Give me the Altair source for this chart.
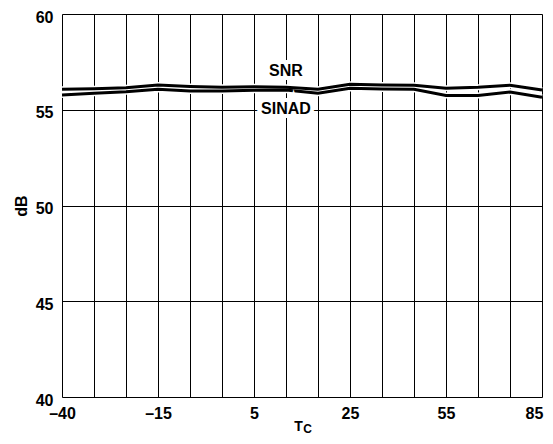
import json
import altair as alt
import pandas as pd

# ---- data ----
x_idx = list(range(16))
x_tick_labels = ["–40", "", "", "–15", "", "", "5", "", "", "25", "", "", "55", "", "", "85"]
snr = [56.07, 56.10, 56.15, 56.29, 56.22, 56.17, 56.20, 56.17, 56.07, 56.33, 56.29, 56.28, 56.12, 56.17, 56.28, 56.03]
sinad = [55.77, 55.86, 55.94, 56.07, 55.98, 55.98, 56.02, 56.03, 55.86, 56.12, 56.08, 56.07, 55.75, 55.75, 55.93, 55.65]
y_ticks = [40, 45, 50, 55, 60]
series_names = ["SNR", "SINAD"]
label_idx = [7, 7]
label_val = [57.0, 55.02]
y_title = "dB"
x_title = "T"
x_title_sub = "C"

FONT = "Liberation Sans, Arial, Helvetica, sans-serif"

df = pd.DataFrame(
    {
        "idx": x_idx * 2,
        "value": snr + sinad,
        "series": ["SNR"] * len(snr) + ["SINAD"] * len(sinad),
    }
)
ann = pd.DataFrame({"idx": label_idx, "value": label_val, "label": series_names})

label_expr = json.dumps(x_tick_labels, ensure_ascii=False) + "[datum.value]"

x_enc = alt.X(
    "idx:Q",
    scale=alt.Scale(domain=[0, 15], nice=False, zero=False),
    axis=alt.Axis(
        values=x_idx,
        labelExpr=label_expr,
        grid=True,
        gridColor="black",
        gridOpacity=1,
        gridWidth=1,
        ticks=False,
        tickSize=0,
        domain=False,
        labelFontSize=16,
        labelFontWeight="bold",
        labelColor="black",
        labelPadding=8,
        labelOffset={"condition": {"test": "datum.value == 15", "value": -8}, "value": 0},
        labelFlush=False,
        labelOverlap=False,
        labelBound=False,
        title=None,
    ),
)
y_enc = alt.Y(
    "value:Q",
    scale=alt.Scale(domain=[40, 60], nice=False, zero=False),
    axis=alt.Axis(
        values=y_ticks,
        grid=True,
        gridColor="black",
        gridOpacity=1,
        gridWidth=1,
        ticks=False,
        tickSize=0,
        domain=False,
        labelFontSize=16,
        labelFontWeight="bold",
        labelColor="black",
        labelPadding=9,
        labelOffset=3,
        title=y_title,
        titleFontSize=16,
        titleFontWeight="bold",
        titleColor="black",
        titlePadding=6,
    ),
)

base = alt.Chart(df)
casing = base.mark_line(color="white", strokeWidth=6).encode(x=x_enc, y=y_enc, detail="series:N")
lines = base.mark_line(color="black", strokeWidth=3).encode(x=x_enc, y=y_enc, detail="series:N")

ann_base = alt.Chart(ann)
halo = ann_base.mark_text(
    font=FONT, fontSize=16, fontWeight="bold", fill="white", stroke="white", strokeWidth=8, baseline="middle"
).encode(x=x_enc, y=y_enc, text="label:N")
ann_text = ann_base.mark_text(
    font=FONT, fontSize=16, fontWeight="bold", color="black", baseline="middle"
).encode(x=x_enc, y=y_enc, text="label:N")

t_main = alt.Chart(pd.DataFrame({"t": [x_title]})).mark_text(
    font=FONT, fontSize=14, fontWeight="bold", color="black", baseline="alphabetic", align="center"
).encode(x=alt.value(236.5), y=alt.value(417), text="t:N")
t_sub = alt.Chart(pd.DataFrame({"t": [x_title_sub]})).mark_text(
    font=FONT, fontSize=12, fontWeight="bold", color="black", baseline="alphabetic", align="center"
).encode(x=alt.value(245.5), y=alt.value(419), text="t:N")

chart = (
    alt.layer(casing, lines, halo, ann_text, t_main, t_sub)
    .properties(
        width=480,
        height=383,
        autosize=alt.AutoSizeParams(type="none"),
        padding={"left": 54, "top": 6, "right": 3, "bottom": 39},
    )
    .configure_view(stroke="black", strokeWidth=2)
    .configure_axis(labelFont=FONT, titleFont=FONT)
    .configure(background="white")
)

chart.save("out.html", embed_options={"renderer": "svg", "actions": False})
